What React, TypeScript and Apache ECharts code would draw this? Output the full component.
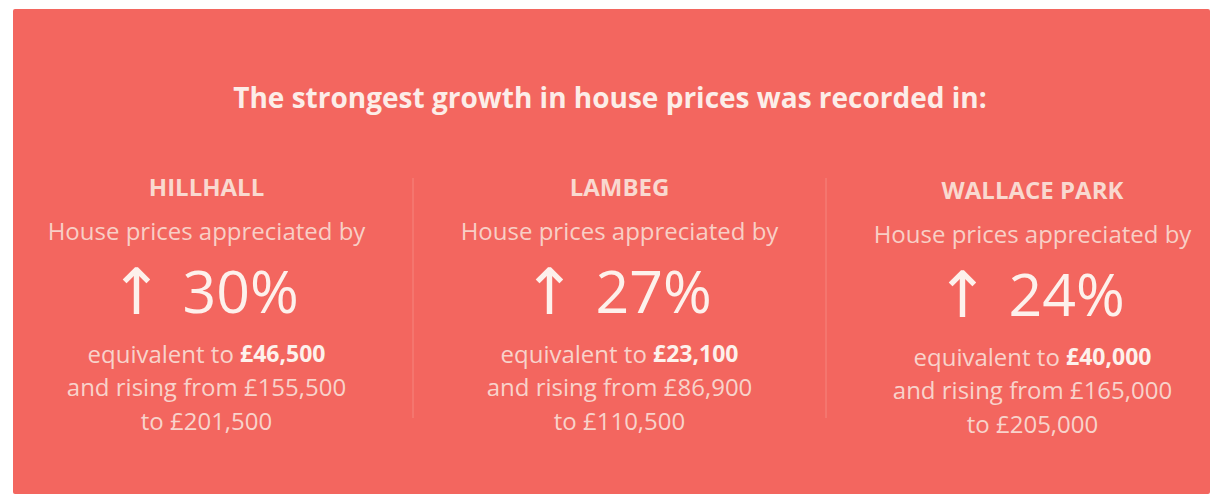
import React, { useEffect, useRef } from "react";
import * as echarts from "echarts";

const titleText = "The strongest growth in house prices was recorded in:";
const areas = ["HILLHALL", "LAMBEG", "WALLACE PARK"];
const growthPct = [30, 27, 24];
const gainValues = ["£46,500", "£23,100", "£40,000"];
const fromValues = ["£155,500", "£86,900", "£165,000"];
const toValues = ["£201,500", "£110,500", "£205,000"];
const subLabel = "House prices appreciated by";

const BG = "#F3665F";
const FONT = "'Open Sans', 'Noto Sans', sans-serif";
const colShift = [0, 0, 3];

export default function App() {
  const ref = useRef<HTMLDivElement>(null);
  useEffect(() => {
    if (!ref.current) return;
    const chart = echarts.init(ref.current, null, { renderer: "svg" });
    chart.setOption({
      animation: false,
      backgroundColor: "#ffffff",
      grid: { left: 0, top: 0, width: 1239, height: 497, outerBoundsMode: "none", containLabel: false },
      xAxis: { type: "category", data: areas, show: false },
      yAxis: { type: "value", min: 0, max: 1, show: false },
      graphic: [
        {
          type: "rect",
          z: 0,
          shape: { x: 13, y: 9, width: 1197, height: 485, r: 2 },
          style: { fill: BG },
        },
        {
          type: "text",
          z: 1,
          x: 610,
          y: 97,
          style: {
            text: titleText,
            x: 0,
            y: 0,
            align: "center",
            verticalAlign: "middle",
            fill: "#FCEDE8",
            font: `bold 28px ${FONT}`,
          },
        },
      ],
      series: [
        {
          type: "custom",
          data: areas.map((_, i) => [i, growthPct[i]]),
          renderItem: (params: any, api: any) => {
            const i = params.dataIndex;
            const cx = api.coord([i, 0])[0];
            const bw = api.size([1, 0])[0];
            const dy = colShift[i];
            const t = (x: number, y: number, style: any) => ({
              type: "text",
              x,
              y: y + dy,
              style: {
                x: 0,
                y: 0,
                align: "center",
                verticalAlign: "middle",
                ...style,
              },
            });
            const children: any[] = [
              t(cx, 186, {
                text: areas[i],
                fill: "#F9D9D0",
                font: `bold 24px ${FONT}`,
              }),
              t(cx, 230, {
                text: subLabel,
                fill: "#F8CFC6",
                font: `24px ${FONT}`,
              }),
              t(cx - 70, 289, {
                text: "↑",
                fill: "#FDF1EC",
                font: `64px 'Noto Sans', 'DejaVu Sans', sans-serif`,
              }),
              t(cx - 24, 290, {
                text: `${api.value(1)}%`,
                align: "left",
                fill: "#FDF1EC",
                font: `59px ${FONT}`,
              }),
              t(cx, 353, {
                text: `{a|equivalent to }{b|${gainValues[i]}}`,
                rich: {
                  a: { fill: "#F8D3CB", font: `24px ${FONT}` },
                  b: { fill: "#FDF1EC", font: `bold 23px ${FONT}` },
                },
              }),
              t(cx, 386, {
                text: `and rising from ${fromValues[i]}`,
                fill: "#F8D3CB",
                font: `24px ${FONT}`,
              }),
              t(cx, 420, {
                text: `to ${toValues[i]}`,
                fill: "#F8D3CB",
                font: `24px ${FONT}`,
              }),
            ];
            if (i < areas.length - 1) {
              children.push({
                type: "line",
                shape: { x1: cx + bw / 2, y1: 178, x2: cx + bw / 2, y2: 418 },
                style: { stroke: "#F5857F", lineWidth: 1 },
              });
            }
            return { type: "group", children };
          },
        },
      ],
    });
    return () => chart.dispose();
  }, []);
  return (
    <div
      ref={ref}
      style={{ position: "fixed", left: 0, top: 0, width: 1220, height: 497 }}
    />
  );
}
